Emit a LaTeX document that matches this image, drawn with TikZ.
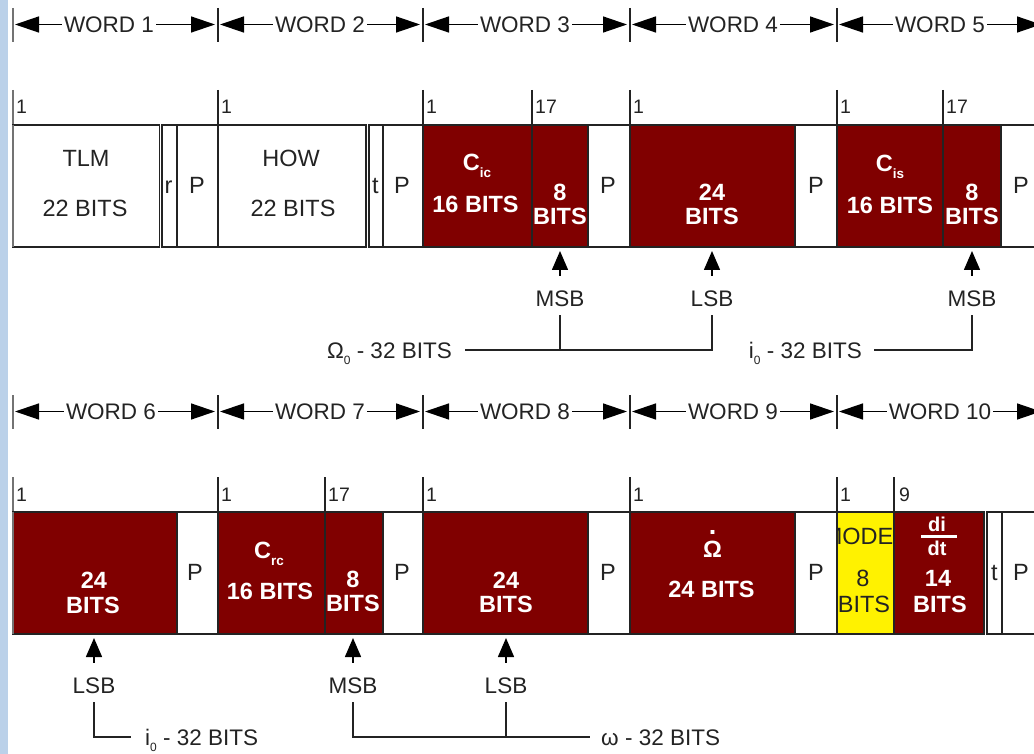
\documentclass[tikz,border=0pt]{standalone}
\usepackage{fontspec}
\setmainfont{Liberation Sans}
\usetikzlibrary{arrows.meta}
\definecolor{darkred}{RGB}{128,0,0}
\definecolor{stripblue}{RGB}{187,209,233}
\definecolor{edgegray}{RGB}{35,35,35}
\definecolor{inkgray}{RGB}{35,35,35}
\definecolor{leftgray}{RGB}{115,115,115}
\newcommand\subtxt[2]{#1\raisebox{-6pt}{\fontsize{12}{12}\selectfont #2}}
\newcommand\bsub[2]{#1\raisebox{-7pt}{\fontsize{13.5}{13.5}\selectfont #2}}
\newcommand\dotOm{\ooalign{Ω\cr\hidewidth\raisebox{23pt}{\fontsize{27}{27}\selectfont .}\hidewidth\cr}}
\begin{document}
\begin{tikzpicture}[x=1pt,y=-1pt,
  fieldbox/.style={draw=edgegray, line width=1.5pt, anchor=north west, inner sep=0pt, outer sep=0pt, minimum height=122pt},
  wfield/.style={fieldbox, fill=white},
  rfield/.style={fieldbox, fill=darkred},
  yfield/.style={fieldbox, fill=yellow},
  regtxt/.style={text=inkgray, font=\fontsize{23.5}{26}\selectfont, inner sep=0pt, text height=16.8pt, text depth=0pt},
  boldtxt/.style={text=white, font=\fontsize{23.5}{26}\bfseries\selectfont, inner sep=0pt, text height=16.8pt, text depth=0pt},
  smallbold/.style={text=white, font=\fontsize{20}{22}\bfseries\selectfont, inner sep=0pt, text height=14.5pt, text depth=0pt},
  numtxt/.style={text=inkgray, font=\fontsize{19.5}{22}\selectfont, anchor=west, inner sep=0pt, text height=14pt, text depth=0pt},
  wordtxt/.style={text=inkgray, font=\fontsize{22.5}{25}\selectfont, inner xsep=2pt, inner ysep=0pt, text height=16.1pt, text depth=0pt},
  labtxt/.style={text=inkgray, font=\fontsize{22.5}{25}\selectfont, inner sep=0pt, text height=16.1pt, text depth=0pt},
  wordarr/.style={draw=black, line width=1.4pt, -{Triangle[length=24pt,width=16pt]}},
  tickline/.style={draw=edgegray, line width=1.4pt},
  lefttick/.style={draw=leftgray, line width=2.6pt},
  uparr/.style={draw=black, line width=1.5pt, -{Triangle[length=19pt,width=16pt]}, shorten >=4pt},
  brk/.style={draw=inkgray, line width=1.5pt}]
\useasboundingbox (0,0) rectangle (1034,754);
\clip (0,0) rectangle (1034,754);
\fill[stripblue] (0,0) rectangle (8,754);

% ---------------- Row 1: word ranges ----------------
\draw[lefttick] (13,8) -- (13,42);
\foreach \x in {218,423,630,837} \draw[tickline] (\x,8) -- (\x,42);
\coordinate (k10) at (13,24.5);
\coordinate (k11) at (218,24.5);
\coordinate (k12) at (423,24.5);
\coordinate (k13) at (630,24.5);
\coordinate (k14) at (837,24.5);
\coordinate (k15) at (1044,24.5);
\node[wordtxt] (wd1) at (109,24.5) {WORD 1};
\node[wordtxt] (wd2) at (320,24.5) {WORD 2};
\node[wordtxt] (wd3) at (525,24.5) {WORD 3};
\node[wordtxt] (wd4) at (733,24.5) {WORD 4};
\node[wordtxt] (wd5) at (940,24.5) {WORD 5};
\draw[wordarr, shorten >=2pt] (wd1.west) -- (k10);
\draw[wordarr, shorten >=3pt] (wd1.east) -- (k11);
\draw[wordarr, shorten >=2pt] (wd2.west) -- (k11);
\draw[wordarr, shorten >=3pt] (wd2.east) -- (k12);
\draw[wordarr, shorten >=2pt] (wd3.west) -- (k12);
\draw[wordarr, shorten >=3pt] (wd3.east) -- (k13);
\draw[wordarr, shorten >=2pt] (wd4.west) -- (k13);
\draw[wordarr, shorten >=3pt] (wd4.east) -- (k14);
\draw[wordarr, shorten >=2pt] (wd5.west) -- (k14);
\draw[wordarr, shorten >=3pt] (wd5.east) -- (k15);

% ---------------- Row 1: bit ticks ----------------
\draw[lefttick] (13,90) -- (13,125);
\foreach \x in {218,423,532,630,837,943} \draw[tickline] (\x,90) -- (\x,125);
\node[numtxt] (n11) at (16,106.7) {1};
\node[numtxt] (n12) at (221,106.7) {1};
\node[numtxt] (n13) at (426,106.7) {1};
\node[numtxt] (n14) at (535,106.7) {17};
\node[numtxt] (n15) at (633,106.7) {1};
\node[numtxt] (n16) at (840,106.7) {1};
\node[numtxt] (n17) at (946,106.7) {17};

% ---------------- Row 1: fields ----------------
\node[wfield, minimum width=146.5pt] (tlm) at (13,125) {};
\node[wfield, minimum width=15pt] (rbit) at (162,125) {};
\node[wfield, minimum width=41pt] (par1) at (177,125) {};
\node[wfield, minimum width=148pt] (how) at (218,125) {};
\node[wfield, minimum width=14pt] (tbit2) at (369,125) {};
\node[wfield, minimum width=40pt] (par2) at (383,125) {};
\node[rfield, minimum width=109pt] (cic) at (423,125) {};
\node[rfield, minimum width=56pt] (cic8) at (532,125) {};
\node[wfield, minimum width=42pt] (par3) at (588,125) {};
\node[rfield, minimum width=165pt] (om24) at (630,125) {};
\node[wfield, minimum width=42pt] (par4) at (795,125) {};
\node[rfield, minimum width=106pt] (cis) at (837,125) {};
\node[rfield, minimum width=58pt] (cis8) at (943,125) {};
\node[wfield, minimum width=44pt] (par5) at (1001,125) {};
\draw[lefttick] (13,125) -- (13,247);

\node[regtxt] (tlmA) at (86,158) {TLM};
\node[regtxt] (tlmB) at (85,208.5) {22 BITS};
\node[regtxt] (rA) at (168.5,185) {r};
\node[regtxt] (p1t) at (197,185) {P};
\node[regtxt] (howA) at (291,158) {HOW};
\node[regtxt] (howB) at (293,208.5) {22 BITS};
\node[regtxt] (tA) at (375.5,185) {t};
\node[regtxt] (p2t) at (402,185) {P};
\node[boldtxt] (cicA) at (477,162.5) {\bsub{C}{ic}};
\node[boldtxt] (cicB) at (475.5,204.5) {16 BITS};
\node[boldtxt] (c8A) at (560,192.5) {8};
\node[boldtxt] (c8B) at (560,216.5) {BITS};
\node[regtxt] (p3t) at (608,185) {P};
\node[boldtxt] (o24A) at (712,192.5) {24};
\node[boldtxt] (o24B) at (712,216.5) {BITS};
\node[regtxt] (p4t) at (816,185) {P};
\node[boldtxt] (cisA) at (890,163) {\bsub{C}{is}};
\node[boldtxt] (cisB) at (890,205) {16 BITS};
\node[boldtxt] (s8A) at (972,192.5) {8};
\node[boldtxt] (s8B) at (972,216.5) {BITS};
\node[regtxt] (p5t) at (1021,185) {P};

% ---------------- Row 1: MSB / LSB ----------------
\node[labtxt] (msbA) at (560,298) {MSB};
\node[labtxt] (lsbA) at (712,298) {LSB};
\node[labtxt] (msbC) at (972,298) {MSB};
\draw[uparr] ([yshift=14pt]msbA.north) -- (msbA.north |- cic8.south);
\draw[uparr] ([yshift=14pt]lsbA.north) -- (lsbA.north |- om24.south);
\draw[uparr] ([yshift=14pt]msbC.north) -- (msbC.north |- cis8.south);
\node[labtxt, anchor=east] (omlab) at (452,350) {\subtxt{Ω}{0} - 32 BITS};
\draw[brk] ([yshift=-9pt]lsbA.south) |- ([xshift=13pt]omlab.east);
\draw[brk] ([yshift=-9pt]msbA.south) -- (msbA.south |- omlab.east);
\node[labtxt, anchor=east] (ilabA) at (862,350) {\subtxt{i}{0} - 32 BITS};
\draw[brk] ([yshift=-9pt]msbC.south) |- ([xshift=12pt]ilabA.east);

% ---------------- Row 2: word ranges ----------------
\draw[lefttick] (13,395) -- (13,429);
\foreach \x in {218,423,630,837} \draw[tickline] (\x,395) -- (\x,429);
\coordinate (k20) at (13,411.5);
\coordinate (k21) at (218,411.5);
\coordinate (k22) at (423,411.5);
\coordinate (k23) at (630,411.5);
\coordinate (k24) at (837,411.5);
\coordinate (k25) at (1044,411.5);
\node[wordtxt] (wd6) at (111,411.5) {WORD 6};
\node[wordtxt] (wd7) at (320,411.5) {WORD 7};
\node[wordtxt] (wd8) at (525,411.5) {WORD 8};
\node[wordtxt] (wd9) at (733,411.5) {WORD 9};
\node[wordtxt] (wd10) at (940,411.5) {WORD 10};
\draw[wordarr, shorten >=2pt] (wd6.west) -- (k20);
\draw[wordarr, shorten >=3pt] (wd6.east) -- (k21);
\draw[wordarr, shorten >=2pt] (wd7.west) -- (k21);
\draw[wordarr, shorten >=3pt] (wd7.east) -- (k22);
\draw[wordarr, shorten >=2pt] (wd8.west) -- (k22);
\draw[wordarr, shorten >=3pt] (wd8.east) -- (k23);
\draw[wordarr, shorten >=2pt] (wd9.west) -- (k23);
\draw[wordarr, shorten >=3pt] (wd9.east) -- (k24);
\draw[wordarr, shorten >=2pt] (wd10.west) -- (k24);
\draw[wordarr, shorten >=3pt] (wd10.east) -- (k25);

% ---------------- Row 2: bit ticks ----------------
\draw[lefttick] (13,477) -- (13,512);
\foreach \x in {218,325,423,630,837,894} \draw[tickline] (\x,477) -- (\x,512);
\node[numtxt] (n21) at (16,494) {1};
\node[numtxt] (n22) at (221,494) {1};
\node[numtxt] (n23) at (328,494) {17};
\node[numtxt] (n24) at (426,494) {1};
\node[numtxt] (n25) at (633,494) {1};
\node[numtxt] (n26) at (840,494) {1};
\node[numtxt] (n27) at (899,494) {9};

% ---------------- Row 2: fields ----------------
\node[rfield, minimum width=164pt] (w6) at (13,512) {};
\node[wfield, minimum width=41pt] (par6) at (177,512) {};
\node[rfield, minimum width=107pt] (crc) at (218,512) {};
\node[rfield, minimum width=58pt] (crc8) at (325,512) {};
\node[wfield, minimum width=40pt] (par7) at (383,512) {};
\node[rfield, minimum width=165pt] (w8) at (423,512) {};
\node[wfield, minimum width=42pt] (par8) at (588,512) {};
\node[rfield, minimum width=165pt] (omd) at (630,512) {};
\node[wfield, minimum width=42pt] (par9) at (795,512) {};
\node[yfield, minimum width=57pt] (mode) at (837,512) {};
\node[rfield, minimum width=90pt] (didt) at (894,512) {};
\node[wfield, minimum width=15pt] (tbit10) at (987,512) {};
\node[wfield, minimum width=44pt] (par10) at (1002,512) {};
\draw[lefttick] (13,512) -- (13,634);

\node[boldtxt] (w6A) at (94,580) {24};
\node[boldtxt] (w6B) at (93,605) {BITS};
\node[regtxt] (p6t) at (195,572) {P};
\node[boldtxt] (crcA) at (269,550) {\bsub{C}{rc}};
\node[boldtxt] (crcB) at (270,591) {16 BITS};
\node[boldtxt] (r8A) at (353,579) {8};
\node[boldtxt] (r8B) at (353,603.5) {BITS};
\node[regtxt] (p7t) at (402,572) {P};
\node[boldtxt] (w8A) at (506,580) {24};
\node[boldtxt] (w8B) at (506,604) {BITS};
\node[regtxt] (p8t) at (608,572) {P};
\node[boldtxt] (omdA) at (712.5,549) {\dotOm};
\node[boldtxt] (omdB) at (711.5,589) {24 BITS};
\node[regtxt] (p9t) at (816,572) {P};
\begin{scope}
  \clip ([xshift=0.8pt,yshift=-0.8pt]mode.north west) rectangle ([xshift=-0.8pt,yshift=0.8pt]mode.south east);
  \node[regtxt] (modeA) at (858,536) {MODE};
\end{scope}
\node[regtxt] (modeB) at (863,578) {8};
\node[regtxt] (modeC) at (864,604) {BITS};
\node[smallbold] (diA) at (937,524) {di};
\node[smallbold] (dtA) at (937,548) {dt};
\draw[white, line width=2.2pt] (921,536.5) -- (957,536.5);
\node[boldtxt] (didtB) at (938,578) {14};
\node[boldtxt] (didtC) at (940,604) {BITS};
\node[regtxt] (t10t) at (994.5,572) {t};
\node[regtxt] (p10t) at (1021,572) {P};

% ---------------- Row 2: MSB / LSB ----------------
\node[labtxt] (lsbB) at (94,685) {LSB};
\node[labtxt] (msbB) at (353,685) {MSB};
\node[labtxt] (lsbC) at (506,685) {LSB};
\draw[uparr] ([yshift=14pt]lsbB.north) -- (lsbB.north |- w6.south);
\draw[uparr] ([yshift=14pt]msbB.north) -- (msbB.north |- crc8.south);
\draw[uparr] ([yshift=14pt]lsbC.north) -- (lsbC.north |- w8.south);
\node[labtxt, anchor=west] (ilabB) at (145,737) {\subtxt{i}{0} - 32 BITS};
\draw[brk] ([yshift=-9pt]lsbB.south) |- ([xshift=-14pt]ilabB.west);
\node[labtxt, anchor=west] (wlab) at (601,737) {ω - 32 BITS};
\draw[brk] ([yshift=-9pt]msbB.south) |- ([xshift=-11pt]wlab.west);
\draw[brk] ([yshift=-9pt]lsbC.south) -- (lsbC.south |- wlab.west);
\end{tikzpicture}
\end{document}
